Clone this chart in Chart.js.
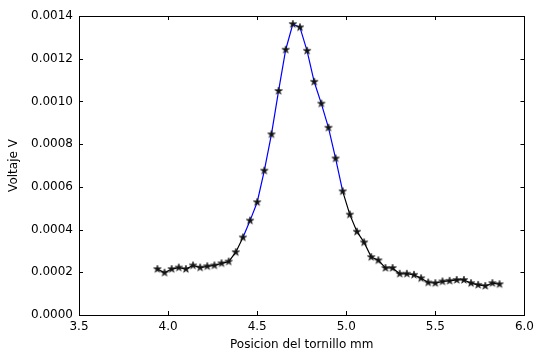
<!DOCTYPE html>
<html>
<head>
<meta charset="utf-8">
<script src="https://cdn.jsdelivr.net/npm/chart.js@4/dist/chart.umd.min.js"></script>
<style>
  html, body { margin: 0; padding: 0; background: #fff; }
  #wrap { width: 539px; height: 356px; }
</style>
</head>
<body>
<div id="wrap"><canvas id="scan" width="539" height="356"></canvas></div>
<script>
// posicion del tornillo (mm) y voltaje medido (V)
const posicion = [
  3.94, 3.98, 4.02, 4.06, 4.10, 4.14, 4.18, 4.22, 4.26, 4.30,
  4.34, 4.38, 4.42, 4.46, 4.50, 4.54, 4.58, 4.62, 4.66, 4.70,
  4.74, 4.78, 4.82, 4.86, 4.90, 4.94, 4.98, 5.02, 5.06, 5.10,
  5.14, 5.18, 5.22, 5.26, 5.30, 5.34, 5.38, 5.42, 5.46, 5.50,
  5.54, 5.58, 5.62, 5.66, 5.70, 5.74, 5.78, 5.82, 5.86
];
const voltaje = [
  0.000215, 0.000198, 0.000215, 0.000222, 0.000215, 0.000232, 0.000222, 0.000228, 0.000232, 0.000242,
  0.000250, 0.000294, 0.000363, 0.000442, 0.000528, 0.000676, 0.000846, 0.001049, 0.001242, 0.001362,
  0.001347, 0.001237, 0.001092, 0.000990, 0.000877, 0.000733, 0.000579, 0.000470, 0.000390, 0.000340,
  0.000271, 0.000256, 0.000220, 0.000220, 0.000193, 0.000193, 0.000188, 0.000172, 0.000152, 0.000149,
  0.000157, 0.000160, 0.000164, 0.000164, 0.000149, 0.000141, 0.000136, 0.000149, 0.000144
];
// tramo del pico trazado en azul
const picoDesde = 4.42, picoHasta = 4.98;

const xTicks = [3.5, 4.0, 4.5, 5.0, 5.5, 6.0];
const yTicks = [0, 0.0002, 0.0004, 0.0006, 0.0008, 0.0010, 0.0012, 0.0014];

// marcador de estrella rellena
function estrella(r){
  const c = document.createElement('canvas');
  const s = Math.ceil(r*2)+2;
  c.width = s; c.height = s;
  const g = c.getContext('2d');
  g.translate(s/2, s/2);
  g.beginPath();
  for(let i=0;i<10;i++){
    const rad = i%2 ? r*0.38 : r;
    const a = -Math.PI/2 + i*Math.PI/5;
    g.lineTo(rad*Math.cos(a), rad*Math.sin(a));
  }
  g.closePath();
  g.fillStyle = '#111';
  g.fill();
  g.lineWidth = 0.6;
  g.strokeStyle = '#111';
  g.stroke();
  return c;
}

// marco con marcas hacia dentro en los cuatro lados
const marco = {
  id: 'marco',
  afterDraw(chart){
    const {ctx, chartArea:a, scales} = chart;
    const L = 4;
    ctx.save();
    ctx.strokeStyle = '#000';
    ctx.lineWidth = 1;
    ctx.strokeRect(Math.round(a.left)+0.5, Math.round(a.top)+0.5, Math.round(a.right-a.left), Math.round(a.bottom-a.top));
    ctx.beginPath();
    xTicks.forEach(v=>{
      const x = Math.round(scales.x.getPixelForValue(v))+0.5;
      ctx.moveTo(x, a.bottom); ctx.lineTo(x, a.bottom-L);
      ctx.moveTo(x, a.top); ctx.lineTo(x, a.top+L);
    });
    yTicks.forEach(v=>{
      const y = Math.round(scales.y.getPixelForValue(v))+0.5;
      ctx.moveTo(a.left, y); ctx.lineTo(a.left+L, y);
      ctx.moveTo(a.right, y); ctx.lineTo(a.right-L, y);
    });
    ctx.stroke();
    ctx.restore();
  }
};

const fuente = { family: 'DejaVu Sans', size: 12 };

new Chart(document.getElementById('scan'), {
  type: 'line',
  data: {
    datasets: [{
      data: posicion.map((x,i)=>({x, y: voltaje[i]})),
      borderColor: '#000',
      borderWidth: 1.2,
      segment: {
        borderColor: c => (c.p0.parsed.x >= picoDesde - 1e-9 && c.p1.parsed.x <= picoHasta + 1e-9) ? '#0000ff' : '#000'
      },
      pointStyle: estrella(4),
      pointRadius: 4,
      tension: 0,
      fill: false
    }]
  },
  options: {
    responsive: false,
    animation: false,
    devicePixelRatio: 1,
    layout: { padding: { top: 16, right: 11, left: 0, bottom: 0 } },
    plugins: { legend: { display: false }, tooltip: { enabled: false } },
    scales: {
      x: {
        type: 'linear', min: 3.5, max: 6.0,
        grid: { display: false, drawTicks: false },
        border: { display: false },
        afterBuildTicks: s => { s.ticks = xTicks.map(v=>({value:v})); },
        afterFit: s => { s.height = 41; },
        ticks: { color: '#000', font: fuente, padding: 5, maxRotation: 0, callback: v => v.toFixed(1) },
        title: { display: true, text: 'Posicion del tornillo mm', color: '#000', font: fuente, padding: { top: 0, bottom: 4 } }
      },
      y: {
        type: 'linear', min: 0, max: 0.0014,
        grid: { display: false, drawTicks: false },
        border: { display: false },
        afterBuildTicks: s => { s.ticks = yTicks.map(v=>({value:v})); },
        afterFit: s => { s.width = 79; },
        ticks: { color: '#000', font: fuente, padding: 6, callback: v => v.toFixed(4) },
        title: { display: true, text: 'Voltaje V', color: '#000', font: fuente, padding: { top: 7, bottom: 0 } }
      }
    }
  },
  plugins: [marco]
});
</script>
</body>
</html>
